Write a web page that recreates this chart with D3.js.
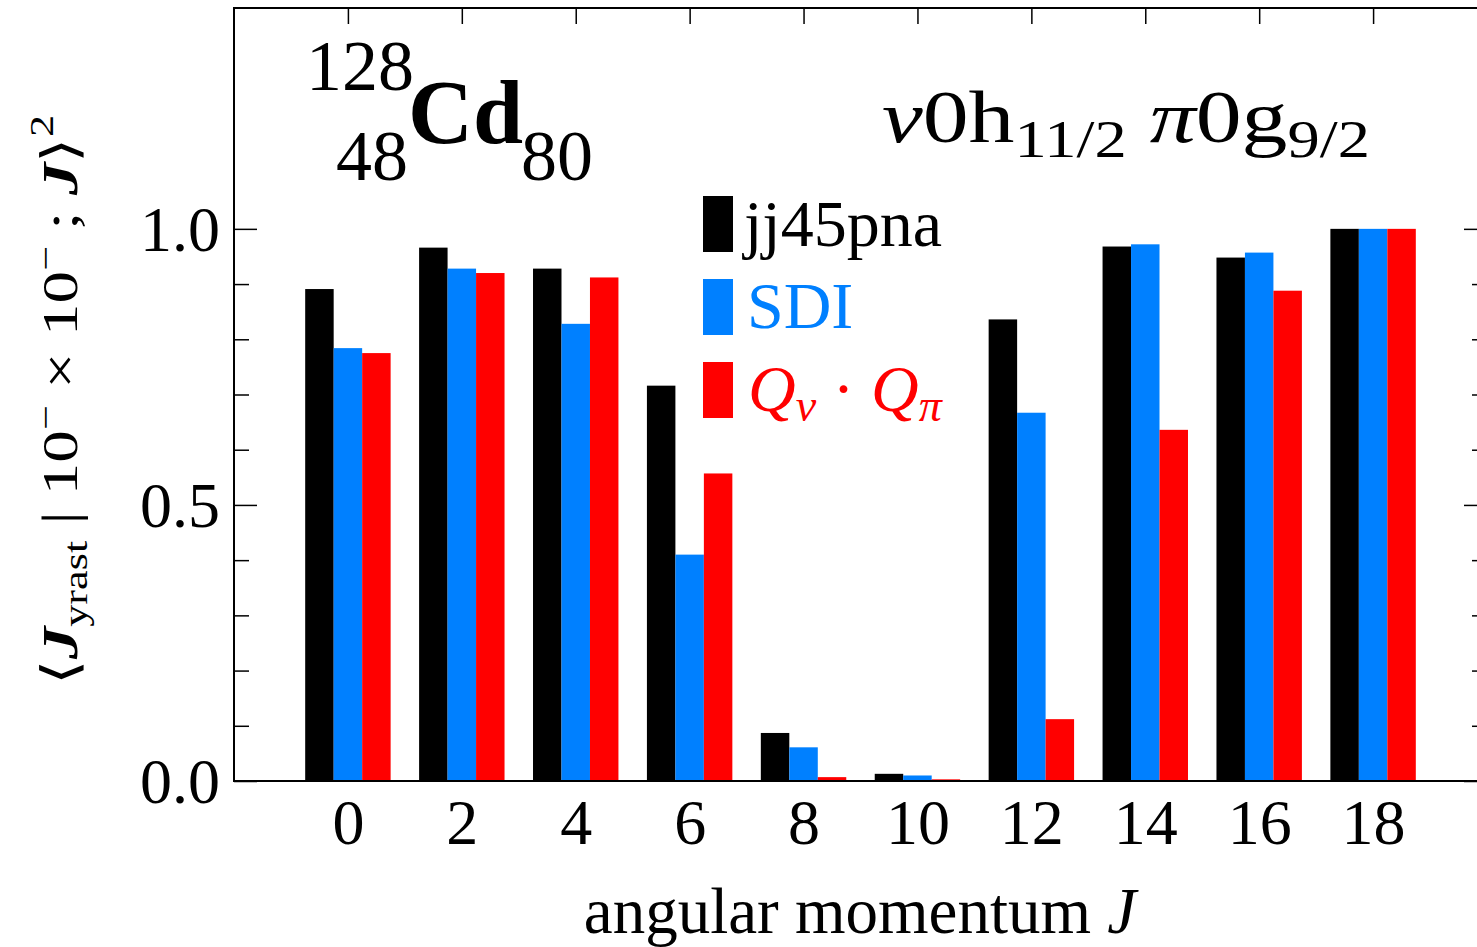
<!DOCTYPE html>
<html>
<head>
<meta charset="utf-8">
<script src="https://cdn.jsdelivr.net/npm/d3@7"></script>
<style>
  html, body { margin: 0; padding: 0; background: #fff; }
  svg { display: block; }
  text { font-family: "Liberation Serif", "Times New Roman", serif; }
</style>
</head>
<body>
<svg id="chart" width="1477" height="947"></svg>
<script>
// Angular momenta of the yrast states
const angularMomenta = [0, 2, 4, 6, 8, 10, 12, 14, 16, 18];
// Squared overlaps for each model
const jj45pna = [0.891, 0.966, 0.928, 0.716, 0.087, 0.013, 0.836, 0.968, 0.948, 1.0];
const sdi     = [0.784, 0.928, 0.828, 0.410, 0.061, 0.010, 0.667, 0.972, 0.957, 1.0];
const qProd   = [0.775, 0.920, 0.912, 0.557, 0.007, 0.003, 0.112, 0.636, 0.888, 1.0];
const seriesNames = ["jj45pna", "SDI", "QQ"];
const seriesColors = ["#000000", "#0080ff", "#ff0000"];
const yMajorTicks = [0, 0.5, 1.0];
const yMinorTicks = [0.1, 0.2, 0.3, 0.4, 0.6, 0.7, 0.8, 0.9];

const svg = d3.select("#chart");
const plotLeft = 234, plotRight = 1487, plotTop = 8, plotBottom = 781;

const x = d3.scaleLinear().domain([-2, 20]).range([plotLeft, plotRight]);
const y = d3.scaleLinear().domain([0, 1.4]).range([plotBottom, plotTop]);
// offset of each series bar inside a group, in units of J
const offset = d3.scaleBand().domain(seriesNames).range([-0.75, 0.75]);

const seriesData = [jj45pna, sdi, qProd];

// bars
seriesData.forEach((vals, si) => {
  const off = offset(seriesNames[si]);
  svg.append("g")
    .selectAll("rect")
    .data(angularMomenta.map((j, i) => ({ j, v: vals[i] })))
    .join("rect")
    .attr("x", d => x(d.j + off))
    .attr("width", d => x(d.j + off + offset.bandwidth()) - x(d.j + off))
    .attr("y", d => y(d.v))
    .attr("height", d => y(0) - y(d.v))
    .attr("fill", seriesColors[si]);
});

// frame
svg.append("rect")
  .attr("x", plotLeft).attr("y", plotTop)
  .attr("width", plotRight - plotLeft).attr("height", plotBottom - plotTop)
  .attr("fill", "none").attr("stroke", "#000").attr("stroke-width", 2);

function styleTicks(g) {
  g.select(".domain").remove();
  g.selectAll("line").attr("stroke", "#000").attr("stroke-width", 1.5);
}

// left axis: major ticks with labels
const gL = svg.append("g").attr("transform", `translate(${plotLeft},0)`)
  .call(d3.axisLeft(y).tickValues(yMajorTicks).tickSize(-23).tickPadding(14)
    .tickFormat(d3.format(".1f")));
styleTicks(gL);
gL.selectAll("text").attr("font-size", 64).attr("fill", "#000")
  .style("font-family", "'Liberation Serif', serif").attr("dy", "0.34em");
// left minor ticks
styleTicks(svg.append("g").attr("transform", `translate(${plotLeft},0)`)
  .call(d3.axisLeft(y).tickValues(yMinorTicks).tickSize(-15).tickFormat("")));

// right axis ticks
styleTicks(svg.append("g").attr("transform", `translate(${plotRight},0)`)
  .call(d3.axisRight(y).tickValues(yMajorTicks).tickSize(-23).tickFormat("")));
styleTicks(svg.append("g").attr("transform", `translate(${plotRight},0)`)
  .call(d3.axisRight(y).tickValues(yMinorTicks).tickSize(-15).tickFormat("")));

// top ticks
styleTicks(svg.append("g").attr("transform", `translate(0,${plotTop})`)
  .call(d3.axisTop(x).tickValues(angularMomenta).tickSize(-16).tickFormat("")));

// bottom tick labels
const gB = svg.append("g").attr("transform", `translate(0,${plotBottom})`)
  .call(d3.axisBottom(x).tickValues(angularMomenta).tickSize(0).tickPadding(18)
    .tickFormat(d3.format("d")));
gB.select(".domain").remove();
gB.selectAll("text").attr("font-size", 64).attr("fill", "#000")
  .style("font-family", "'Liberation Serif', serif").attr("dy", "0.71em");

// x axis title
const xt = svg.append("text").attr("x", 860).attr("y", 933)
  .attr("text-anchor", "middle").attr("font-size", 65).attr("fill", "#000");
xt.append("tspan").text("angular momentum ");
xt.append("tspan").attr("font-style", "italic").text("J");

// y axis title, stretched along its length
const yg = svg.append("g").attr("transform", "translate(77,400) rotate(-90)");
const ys = yg.append("g");
const yt = ys.append("text").attr("text-anchor", "middle").attr("font-size", 50).attr("fill", "#000");
yt.append("tspan").text("\u27E8");
yt.append("tspan").attr("font-style", "italic").attr("font-weight", "bold").text("J");
yt.append("tspan").attr("font-size", 34).attr("dy", 10).text("yrast");
yt.append("tspan").attr("dy", -10).text(" | 10");
yt.append("tspan").attr("font-size", 34).attr("dy", -20).text("\u2212");
yt.append("tspan").attr("dy", 20).text(" \u00D7 10");
yt.append("tspan").attr("font-size", 34).attr("dy", -20).text("\u2212");
yt.append("tspan").attr("dy", 20).text(" ; ");
yt.append("tspan").attr("font-style", "italic").attr("font-weight", "bold").text("J");
yt.append("tspan").text("\u27E9");
yt.append("tspan").attr("font-size", 34).attr("dy", -24).text("2");
const ybw = yt.node().getBBox().width;
ys.attr("transform", `scale(${571 / ybw},1)`);

// nucleus label
svg.append("text").attr("x", 306).attr("y", 90).attr("font-size", 72).text("128");
svg.append("text").attr("x", 408).attr("y", 180).attr("font-size", 72).attr("text-anchor", "end").text("48");
svg.append("text").attr("x", 408).attr("y", 143).attr("font-size", 90).attr("font-weight", "bold").text("Cd");
svg.append("text").attr("x", 521).attr("y", 180).attr("font-size", 72).text("80");

// orbital label, widened to its full span
const og = svg.append("g").attr("transform", "translate(882,142)");
const ot = og.append("text").attr("x", 0).attr("y", 0).attr("font-size", 74).attr("fill", "#000");
ot.append("tspan").attr("font-style", "italic").text("\u03BD");
ot.append("tspan").text("0h");
ot.append("tspan").attr("font-size", 52).attr("dy", 15).text("11/2");
ot.append("tspan").attr("dy", -15).text(" ");
ot.append("tspan").attr("font-style", "italic").text("\u03C0");
ot.append("tspan").text("0g");
ot.append("tspan").attr("font-size", 52).attr("dy", 15).text("9/2");
const obb = ot.node().getBBox();
ot.attr("transform", `scale(${488 / obb.width},1) translate(${-obb.x},0)`);

// legend
const legendRows = [
  { color: seriesColors[0], y: 196 },
  { color: seriesColors[1], y: 279 },
  { color: seriesColors[2], y: 362 }
];
svg.append("g").selectAll("rect").data(legendRows).join("rect")
  .attr("x", 703).attr("y", d => d.y).attr("width", 30).attr("height", 56)
  .attr("fill", d => d.color);
svg.append("text").attr("x", 744).attr("y", 246).attr("font-size", 66).attr("fill", seriesColors[0]).text("jj45pna");
svg.append("text").attr("x", 747).attr("y", 328).attr("font-size", 66).attr("fill", seriesColors[1]).text("SDI");
const lq = svg.append("text").attr("x", 748).attr("y", 411).attr("font-size", 66).attr("fill", seriesColors[2]);
lq.append("tspan").attr("font-style", "italic").text("Q");
lq.append("tspan").attr("font-style", "italic").attr("font-size", 46).attr("dy", 10).text("\u03BD");
lq.append("tspan").attr("dy", -10).text(" \u00B7 ");
lq.append("tspan").attr("font-style", "italic").text("Q");
lq.append("tspan").attr("font-style", "italic").attr("font-size", 46).attr("dy", 10).text("\u03C0");
</script>
</body>
</html>
